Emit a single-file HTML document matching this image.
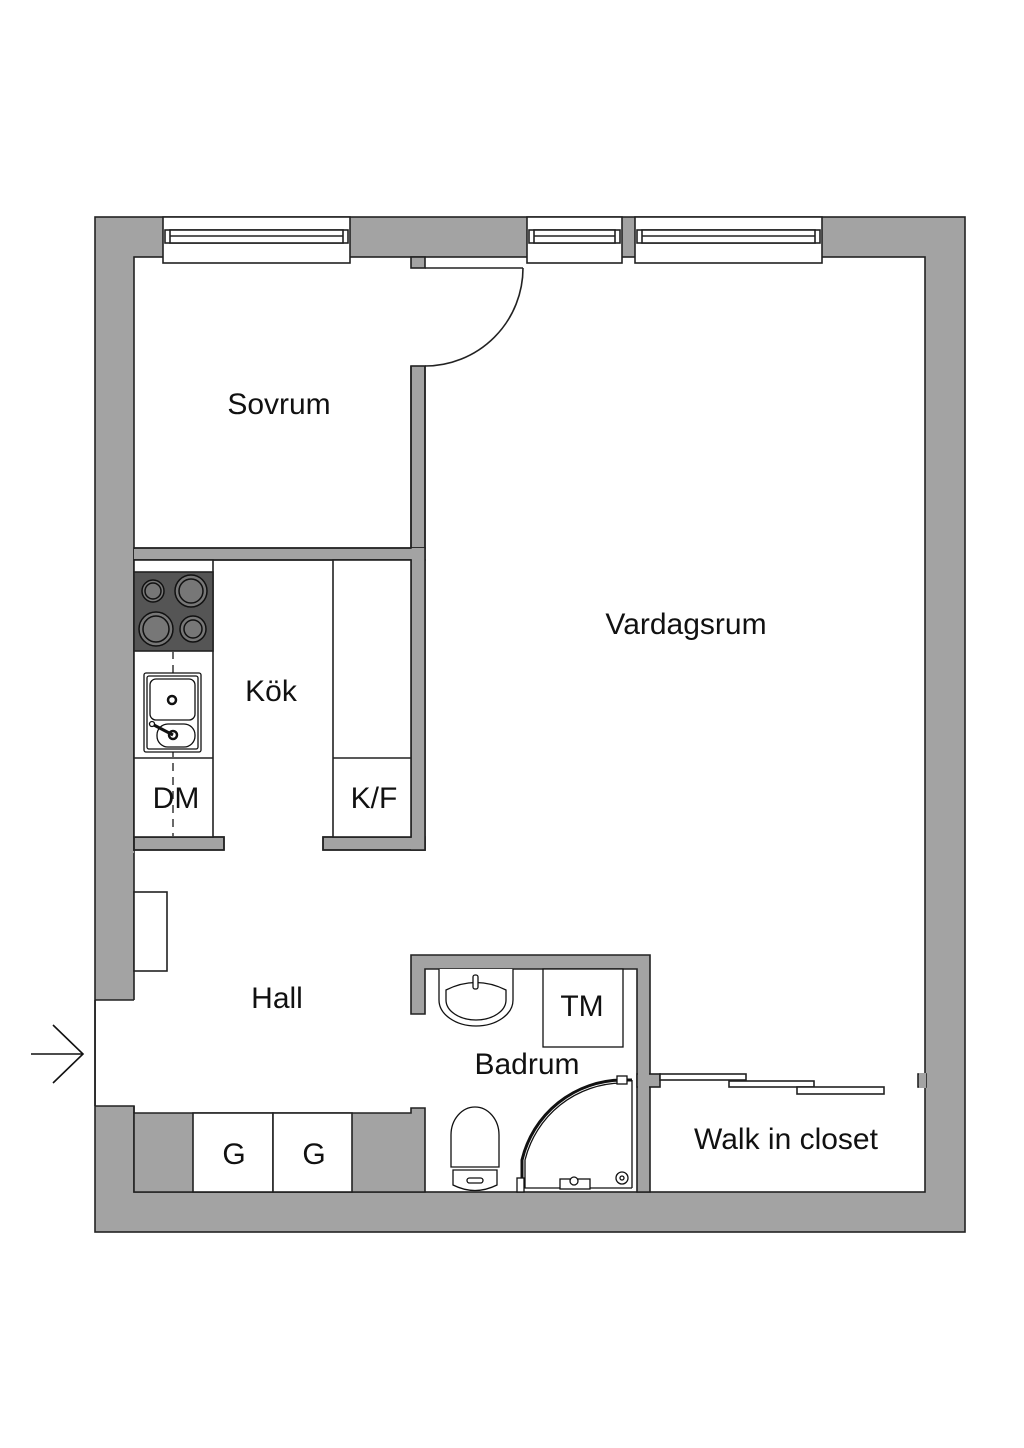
<!DOCTYPE html>
<html><head><meta charset="utf-8"><style>
html,body{margin:0;padding:0;background:#fff;}
svg{display:block;}
text{font-family:"Liberation Sans",sans-serif;fill:#111;}
</style></head><body>
<svg width="1024" height="1448" viewBox="0 0 1024 1448" xmlns="http://www.w3.org/2000/svg">
<g stroke="#222" stroke-width="1.6">
<rect x="95" y="217" width="870" height="1015" fill="#a3a3a3"/>
<rect x="134" y="257" width="791" height="935" fill="#fff"/>
<path d="M134,1113 L411,1113 L411,1108 L425,1108 L425,1192 L134,1192 Z" fill="#a3a3a3"/>
<rect x="96" y="1000" width="39.5" height="106" fill="#fff" stroke="none"/>
<line x1="95" y1="1000" x2="95" y2="1106"/>
<line x1="95" y1="1000" x2="134" y2="1000"/>
<path d="M95,1106 L134,1106 L134,1113" fill="none"/>
<rect x="193" y="1113" width="80" height="79" fill="#fff"/>
<rect x="273" y="1113" width="79" height="79" fill="#fff"/>
<rect x="411" y="257" width="14" height="11" fill="#a3a3a3"/>
<rect x="411" y="366" width="14" height="182" fill="#a3a3a3"/>
<rect x="134" y="548" width="291" height="12" fill="#a3a3a3"/>
<rect x="411" y="560" width="14" height="290" fill="#a3a3a3"/>
<rect x="134" y="837" width="90" height="13" fill="#a3a3a3"/>
<rect x="323" y="837" width="102" height="13" fill="#a3a3a3"/>
<rect x="411" y="548" width="14" height="302" fill="#a3a3a3" stroke="none"/>
<rect x="134" y="549" width="290" height="10" fill="#a3a3a3" stroke="none"/>
<path d="M134,548 L411,548 L411,366" fill="none"/>
<path d="M134,560 L411,560 L411,837 L323,837 L323,850 L425,850 L425,366" fill="none"/>
<path d="M134,850 L134,837 L224,837 L224,850 L134,850" fill="none"/>
<path d="M134,837 L134,560" fill="none"/>
<rect x="96" y="851" width="38" height="2" fill="#a3a3a3" stroke="none"/>
<line x1="425" y1="268" x2="523" y2="268"/>
<path d="M523,268 A98,98 0 0 1 425,366" fill="none"/>
<rect x="163" y="217" width="187" height="46" fill="#fff"/>
<rect x="165" y="230" width="183" height="13" fill="#fff"/>
<rect x="170" y="230" width="173" height="13" fill="#fff"/>
<line x1="170" y1="236" x2="343" y2="236"/>
<rect x="527" y="217" width="95" height="46" fill="#fff"/>
<rect x="529" y="230" width="91" height="13" fill="#fff"/>
<rect x="534" y="230" width="81" height="13" fill="#fff"/>
<line x1="534" y1="236" x2="615" y2="236"/>
<rect x="635" y="217" width="187" height="46" fill="#fff"/>
<rect x="637" y="230" width="183" height="13" fill="#fff"/>
<rect x="642" y="230" width="173" height="13" fill="#fff"/>
<line x1="642" y1="236" x2="815" y2="236"/>
<rect x="134" y="560" width="79" height="277" fill="#fff"/>
<line x1="134" y1="758" x2="213" y2="758"/>
<rect x="333" y="560" width="78" height="277" fill="#fff"/>
<line x1="333" y1="758" x2="411" y2="758"/>
<rect x="134" y="572" width="79" height="79" fill="#555"/>
<line x1="173" y1="651" x2="173" y2="837" stroke-dasharray="8,6" stroke="#444"/>
</g>
<g stroke="#111" stroke-width="1.5" fill="#777">
<circle cx="153" cy="591" r="11"/><circle cx="153" cy="591" r="8"/>
<circle cx="191" cy="591" r="16"/><circle cx="191" cy="591" r="12"/>
<circle cx="156" cy="629" r="17"/><circle cx="156" cy="629" r="13"/>
<circle cx="193" cy="629" r="13"/><circle cx="193" cy="629" r="9"/>
</g>
<g stroke="#111" stroke-width="1.3" fill="#fff">
<rect x="144" y="673" width="57" height="79" rx="2"/>
<rect x="147" y="676" width="51" height="73" rx="2"/>
<rect x="150" y="679" width="45" height="41" rx="6"/>
<rect x="157" y="724" width="38" height="23" rx="11"/>
<circle cx="172" cy="700" r="4" stroke-width="2.5"/>
<circle cx="173" cy="735" r="4" stroke-width="2.5"/>
<line x1="152" y1="724" x2="173" y2="735" stroke-width="3"/>
<circle cx="152" cy="724" r="2.5"/>
</g>
<g stroke="#222" stroke-width="1.6">
<rect x="134" y="892" width="33" height="79" fill="#fff"/>
<path d="M411,955 L650,955 L650,1192 L637,1192 L637,969 L425,969 L425,1014 L411,1014 Z" fill="#a3a3a3"/>
<rect x="637" y="1074" width="23" height="13" fill="#a3a3a3"/>
<rect x="638" y="1073" width="11" height="15" fill="#a3a3a3" stroke="none"/>
<rect x="918" y="1074" width="8" height="13" fill="#a3a3a3"/>
<rect x="919" y="1073" width="7" height="15" fill="#a3a3a3" stroke="none"/>
<rect x="660" y="1074" width="86" height="6" fill="#fff"/>
<rect x="729" y="1081" width="85" height="6" fill="#fff"/>
<rect x="797" y="1087" width="87" height="7" fill="#fff"/>
</g>
<g stroke="#111" stroke-width="1.3" fill="#fff">
<path d="M439,969 L439,1000 A37,26 0 0 0 513,1000 L513,969"/>
<path d="M446,990 Q476,975 506,990 L506,1000 A30,20 0 0 1 446,1000 Z"/>
<rect x="473" y="975" width="5" height="14" rx="2"/>
<rect x="543" y="969" width="80" height="78"/>
<path d="M451,1167 L451,1135 A24,28 0 0 1 499,1135 L499,1167 Z"/>
<path d="M453,1170 L497,1170 L497,1185 Q475,1196 453,1185 Z"/>
<rect x="467" y="1178" width="16" height="5" rx="2.5"/>
<path d="M522,1188 L522,1160 A104,104 0 0 1 622,1080 L632,1080" fill="none" stroke-width="3"/>
<path d="M525,1188 L525,1160 A101,101 0 0 1 622,1083" fill="none"/>
<line x1="632" y1="1080" x2="632" y2="1188"/>
<line x1="522" y1="1188" x2="632" y2="1188"/>
<rect x="517" y="1178" width="7" height="14"/>
<rect x="617" y="1076" width="10" height="8"/>
<rect x="560" y="1179" width="30" height="10"/>
<circle cx="574" cy="1181" r="4"/>
<circle cx="622" cy="1178" r="6"/><circle cx="622" cy="1178" r="2"/>
</g>
<g stroke="#111" stroke-width="1.6" fill="none">
<line x1="31" y1="1054" x2="83" y2="1054"/>
<polyline points="53,1025 83,1054 53,1083"/>
</g>
<g font-size="30" text-anchor="middle">
<text x="279" y="414">Sovrum</text>
<text x="686" y="634">Vardagsrum</text>
<text x="271" y="701">Kök</text>
<text x="176" y="808">DM</text>
<text x="374" y="808">K/F</text>
<text x="277" y="1008">Hall</text>
<text x="582" y="1016">TM</text>
<text x="527" y="1074">Badrum</text>
<text x="786" y="1149">Walk in closet</text>
<text x="234" y="1164">G</text>
<text x="314" y="1164">G</text>
</g>
</svg>
</body></html>
